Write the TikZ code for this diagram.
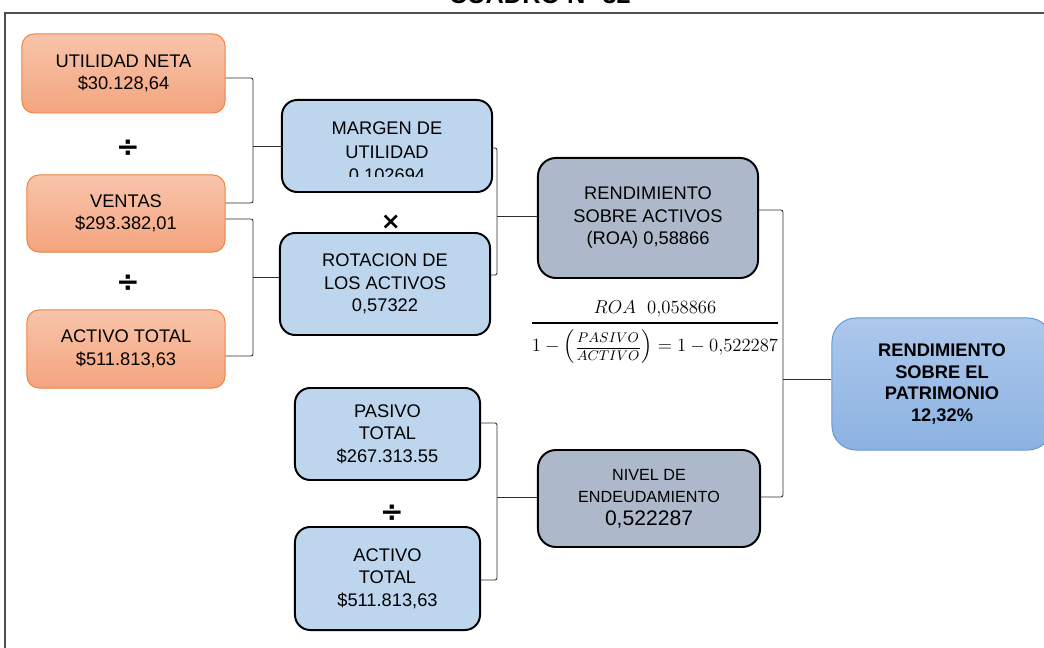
\documentclass[tikz,border=0pt]{standalone}
\usepackage{amsmath}
\usepackage{graphicx}
\usepackage[no-math]{fontspec}
\setmainfont{Liberation Sans}
\newfontfamily\opfont{DejaVu Sans}
\usepackage{xcolor}
\usetikzlibrary{calc}
\definecolor{orangeTop}{RGB}{248,196,170}
\definecolor{orangeBottom}{RGB}{244,164,126}
\definecolor{orangeLine}{RGB}{238,130,62}
\definecolor{ratioBlue}{RGB}{189,214,238}
\definecolor{resultGray}{RGB}{173,185,202}
\definecolor{finalTop}{RGB}{172,200,235}
\definecolor{finalBottom}{RGB}{140,178,226}
\definecolor{finalLine}{RGB}{100,155,215}
\definecolor{lineGray}{RGB}{45,45,45}
\definecolor{frameGray}{RGB}{80,80,80}

\begin{document}
\begin{tikzpicture}[x=0.025cm, y=-0.025cm, font=\fontsize{13}{16}\selectfont]
            \tikzstyle{inbox} = [draw=orangeLine, line width=0.7pt, top color=orangeTop, bottom color=orangeBottom, rounded corners=0.3cm, minimum width=4.95cm, minimum height=1.95cm, align=center, inner sep=0pt]
            \tikzstyle{ratio} = [draw=black, line width=1.4pt, fill=ratioBlue, rounded corners=0.38cm, align=center, inner sep=0pt]
            \tikzstyle{result} = [draw=black, line width=1.4pt, fill=resultGray, rounded corners=0.45cm, minimum width=5.5cm, align=center, inner sep=0pt]
            \tikzstyle{final} = [draw=finalLine, line width=0.7pt, top color=finalTop, bottom color=finalBottom, rounded corners=0.6cm, minimum width=5.5cm, minimum height=3.3cm, align=center, inner sep=0pt, font=\fontsize{13}{15.5}\selectfont\bfseries]
            \tikzstyle{conn} = [line width=0.6pt, lineGray, rounded corners=1.5pt]
            \tikzstyle{op} = [font=\opfont\fontsize{20}{20}\selectfont\bfseries, inner sep=0pt]
            \tikzstyle{cuadro} = [line width=1.1pt, frameGray]

            \useasboundingbox (0,0) rectangle (1044,648);

            % Frame and title
            \draw[cuadro] (5,700) -- (5,13) -- (1100,13);
            \node[font=\fontsize{18}{18}\selectfont\bfseries, anchor=base] (title) at (540,4) {CUADRO N° 32};

            % Input data
            \node[inbox, minimum width=5.075cm, minimum height=1.975cm] (ut) at (123.5,73.5) {UTILIDAD NETA\\\$30.128,64};
            \node[inbox, minimum height=1.925cm] (ven) at (126,213.5) {VENTAS\\\$293.382,01};
            \node[inbox] (act) at (126,349) {ACTIVO TOTAL\\\$511.813,63};
            \node[op] (div1) at (128,148) {÷};
            \node[op] (div2) at (128,283) {÷};

            % Ratios
            \node[ratio, minimum width=5.25cm, minimum height=2.3cm] (mar) at (387,146) {};
            \begin{scope}
                \clip (282,100) rectangle (492,177);
                \node[align=center, font=\fontsize{13}{16.8}\selectfont] (martext) at (387,153) {MARGEN DE\\UTILIDAD\\0,102694};
            \end{scope}
            \node[op, font=\opfont\fontsize{17}{17}\selectfont\bfseries] (times) at (391,222) {×};
            \node[ratio, minimum width=5.25cm, minimum height=2.55cm] (rot) at (385,284) {ROTACION DE\\LOS ACTIVOS\\0,57322};

            % ROA
            \node[result, minimum height=3cm] (roa) at (648,218) {RENDIMIENTO\\SOBRE ACTIVOS\\(ROA) 0,58866};
            \node[inner sep=0pt] (formula) at (655,332) {\resizebox{6.25cm}{!}{$\genfrac{}{}{1.2pt}{0}{ROA\ \ 0{,}058866}{1-\left(\mbox{\fontsize{9}{10}\selectfont$\dfrac{PASIVO}{ACTIVO}$}\right)=1-0{,}522287}$}};

            % Debt level
            \node[ratio, minimum width=4.625cm, minimum height=2.3cm] (pas) at (387.5,434) {PASIVO\\TOTAL\\\$267.313.55};
            \node[op] (div3) at (392,513) {÷};
            \node[ratio, minimum width=4.625cm, minimum height=2.575cm] (act2) at (387.5,578.5) {ACTIVO\\TOTAL\\\$511.813,63};
            \node[result, minimum width=5.55cm, minimum height=2.425cm] (niv) at (649,498.5) {\fontsize{11.5}{14}\selectfont NIVEL DE\\\fontsize{11.5}{14}\selectfont ENDEUDAMIENTO\\\fontsize{15}{18}\selectfont 0,522287};

            % Result
            \node[final] (rsp) at (942,384) {RENDIMIENTO\\SOBRE EL\\PATRIMONIO\\12,32\%};

            % Brackets
            \coordinate (j1) at (253,146);
            \coordinate (j2) at (253,277);
            \coordinate (j3) at (497,216);
            \coordinate (j4) at (783,379);
            \coordinate (j5) at (497,497);
            \draw[conn] ($(ut.east)+(0,4.5)$) -| (j1) |- ($(ven.east)+(0,-10.5)$);
            \draw[conn] (j1) -- (mar.west);
            \draw[conn] ($(ven.east)+(0,5.5)$) -| (j2) |- ($(act.east)+(0,7)$);
            \draw[conn] (j2) -- (j2 -| rot.west);
            \draw[conn] ($(mar.east)+(0,2)$) -| (j3) |- ($(rot.east)+(0,-9)$);
            \draw[conn] (j3) -- (j3 -| roa.west);
            \draw[conn] ($(roa.east)+(0,-8)$) -| (j4) |- ($(niv.east)+(0,-1.5)$);
            \draw[conn] (j4) -- (j4 -| rsp.west);
            \draw[conn] ($(pas.east)+(0,-11)$) -| (j5) |- ($(act2.east)+(0,1.5)$);
            \draw[conn] (j5) -- (j5 -| niv.west);
\end{tikzpicture}
\end{document}
